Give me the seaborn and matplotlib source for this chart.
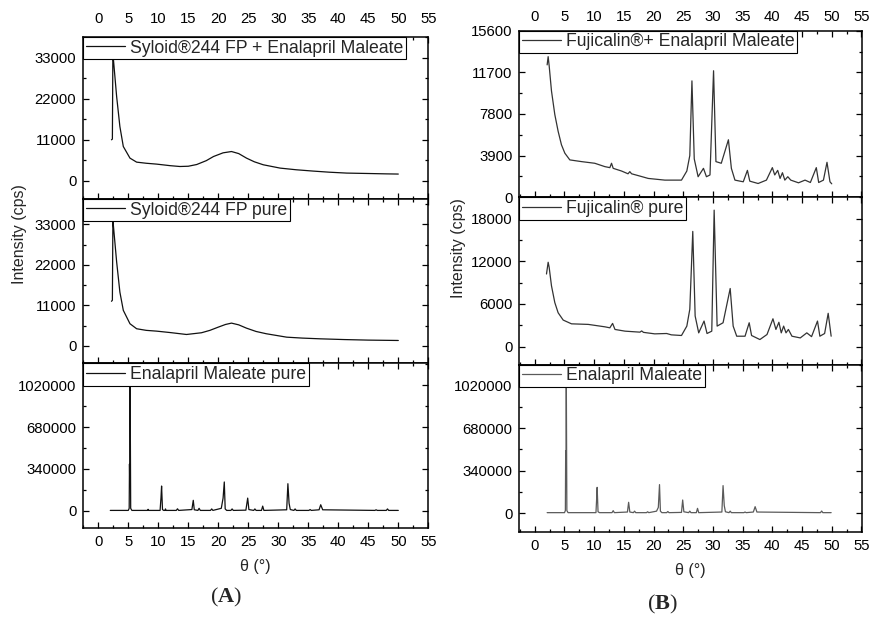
import numpy as np
import pandas as pd
import seaborn as sns
import matplotlib.pyplot as plt
from matplotlib.ticker import MultipleLocator, StrMethodFormatter

#############################################
# XRD patterns (2theta, cps)
#############################################
# (A) Syloid 244 FP + Enalapril Maleate
syl_em_theta = [2.2, 2.35, 2.45, 2.5, 3.06, 3.6, 4.17, 5.28, 6.39, 8.0, 9.72, 12.0, 13.6, 15.0,
                16.4, 18.0, 19.2, 20.8, 22.2, 23.4, 24.7, 26.0, 27.5, 30.3, 33.0, 35.8, 38.5,
                41.4, 45.0, 48.0, 50.0]
syl_em_int = [11000, 11200, 40000, 33000, 22600, 14560, 9200, 6080, 5000, 4700, 4470, 4050, 3830,
              3900, 4360, 5400, 6510, 7500, 7850, 7300, 6080, 5100, 4290, 3400, 2950, 2600, 2300,
              2060, 1950, 1850, 1800]

# (A) Syloid 244 FP pure
syl_theta = [2.2, 2.35, 2.45, 2.5, 3.06, 3.6, 4.17, 5.28, 6.39, 8.0, 9.72, 12.0, 14.7, 17.2, 18.6,
             20.0, 21.2, 22.2, 23.4, 24.7, 26.3, 28.0, 31.4, 34.0, 37.0, 41.0, 45.0, 50.0]
syl_int = [12100, 12400, 38000, 33000, 22800, 14600, 9640, 6000, 4640, 4200, 3990, 3600, 3080, 3550,
           4200, 5080, 5800, 6170, 5700, 4800, 3900, 3280, 2350, 2100, 1900, 1700, 1550, 1450]

# (A) Enalapril Maleate pure
em_a_theta = [2.0, 5.0, 5.15, 5.2, 5.25, 5.3, 5.4, 5.6, 8.2, 8.3, 8.4, 10.3, 10.45, 10.55, 10.7, 10.9,
              11.1, 11.2, 11.3, 13.0, 13.2, 13.4, 15.6, 15.83, 16.0, 16.6, 16.8, 17.0, 18.7, 18.9,
              19.1, 20.5, 20.8, 21.0, 21.15, 21.4, 22.1, 22.3, 22.5, 24.6, 24.9, 25.1, 25.9, 26.1,
              26.3, 27.2, 27.4, 27.6, 31.4, 31.6, 31.8, 32.0, 32.6, 32.8, 33.0, 35.1, 35.3, 35.5,
              36.8, 37.07, 37.4, 46.1, 46.3, 46.5, 48.0, 48.2, 48.4, 50.0]
em_a_int = [3000, 3000, 20000, 380000, 200000, 1100000, 20000, 3000, 3000, 12000, 3000, 3000, 106000,
            201000, 10000, 3000, 3000, 15000, 3000, 3000, 16000, 3000, 10000, 85000, 8000, 3000,
            20000, 3000, 3000, 15000, 3000, 20000, 103000, 234000, 15000, 3000, 3000, 15000, 3000,
            5000, 103000, 10000, 3000, 15000, 3000, 3000, 38000, 3000, 8000, 220000, 60000, 10000,
            3000, 15000, 3000, 3000, 10000, 3000, 8000, 49000, 8000, 3000, 8000, 3000, 3000, 15000,
            3000, 3000]

# (B) Fujicalin + Enalapril Maleate
fuj_em_theta = [2.08, 2.25, 2.42, 2.81, 3.37, 3.93, 4.49, 5.06, 5.9, 7.87, 10.1, 11.8, 12.64, 12.92,
                13.2, 14.6, 15.7, 16.0, 16.3, 17.7, 19.1, 21.9, 24.7, 25.6, 26.1, 26.46, 26.85,
                27.5, 28.4, 28.9, 29.5, 30.1, 30.5, 31.4, 32.6, 33.1, 33.7, 35.1, 35.8, 36.2, 37.6,
                39.0, 40.0, 40.4, 40.9, 41.3, 41.7, 42.1, 42.6, 43.1, 44.4, 45.5, 46.4, 47.4, 47.8,
                48.6, 49.2, 49.7, 50.0]
fuj_em_int = [12400, 13170, 12320, 9960, 7750, 6180, 4915, 4130, 3500, 3340, 3185, 2870, 2775, 3185,
              2710, 2460, 2200, 2400, 2200, 1985, 1765, 1607, 1607, 2460, 3910, 10900, 3590, 1925,
              2710, 1925, 2090, 11850, 3340, 3185, 5385, 2710, 1607, 1450, 2520, 1510, 1290, 1607,
              2775, 2090, 2520, 1765, 2300, 1607, 1925, 1607, 1355, 1607, 1385, 2775, 1385, 1607,
              3275, 1450, 1260]

# (B) Fujicalin pure
fuj_theta = [1.97, 2.25, 2.42, 2.81, 3.37, 3.93, 4.78, 6.18, 9.0, 11.8, 12.64, 13.1, 13.5, 15.2, 17.7,
             18.0, 18.3, 20.2, 22.2, 23.0, 24.7, 25.6, 26.1, 26.6, 27.0, 27.6, 28.5, 29.0, 29.8,
             30.2, 30.7, 31.7, 32.9, 33.4, 34.0, 35.4, 36.1, 36.5, 37.9, 39.1, 40.1, 40.6, 41.1,
             41.5, 41.9, 42.3, 42.7, 43.3, 44.7, 45.8, 46.6, 47.6, 48.0, 48.8, 49.4, 49.9]
fuj_int = [10210, 11860, 11150, 8550, 6190, 4760, 3730, 3200, 3120, 2780, 2640, 3260, 2410, 2170, 2030,
           2200, 2000, 1790, 1840, 1650, 1560, 2880, 5250, 16200, 4300, 1930, 3590, 1840, 2170,
           19190, 2880, 3350, 8170, 2880, 1460, 1460, 3350, 1560, 990, 1700, 3910, 2410, 3420,
           1930, 2880, 1930, 2410, 1460, 1220, 1930, 1400, 3590, 1460, 1840, 4680, 1460]

# (B) Enalapril Maleate
em_b_theta = [2.08, 5.0, 5.15, 5.2, 5.25, 5.3, 5.4, 5.6, 10.3, 10.4, 10.5, 10.65, 10.9, 13.0, 13.2,
              13.4, 15.6, 15.8, 16.0, 16.6, 16.8, 17.0, 18.8, 19.0, 19.2, 20.5, 20.8, 21.0, 21.15,
              21.4, 22.2, 22.4, 22.6, 24.7, 24.9, 25.1, 25.9, 26.1, 26.3, 27.2, 27.4, 27.6, 31.5,
              31.7, 31.9, 32.1, 32.7, 32.9, 33.1, 35.2, 35.4, 35.6, 36.8, 37.1, 37.4, 48.1, 48.3,
              48.5, 49.9]
em_b_int = [3000, 3000, 20000, 501000, 250000, 1150000, 20000, 3000, 3000, 100000, 206000, 10000, 3000,
            3000, 19000, 3000, 8000, 86000, 8000, 3000, 15000, 3000, 3000, 10000, 3000, 15000, 45000,
            228000, 15000, 3000, 3000, 12000, 3000, 5000, 104500, 10000, 3000, 15000, 3000, 3000,
            37500, 3000, 8000, 220000, 60000, 10000, 3000, 15000, 3000, 3000, 8000, 3000, 8000,
            51000, 8000, 3000, 16000, 3000, 3000]

labels_a = ['Syloid®244 FP + Enalapril Maleate', 'Syloid®244 FP pure', 'Enalapril Maleate pure']
labels_b = ['Fujicalin®+ Enalapril Maleate', 'Fujicalin® pure', 'Enalapril Maleate']

#############################################
# style
#############################################
sns.set_style('ticks')
plt.rcParams['font.family'] = ['Liberation Sans', 'DejaVu Sans']
plt.rcParams['mathtext.fontset'] = 'custom'
plt.rcParams['mathtext.bf'] = 'Liberation Serif:bold'
plt.rcParams['mathtext.rm'] = 'Liberation Serif'

fig = plt.figure(figsize=(8.73, 6.19), dpi=100)

# rects in figure fractions
rects_a = [[0.0954, 0.6785, 0.3952, 0.2617],
           [0.0954, 0.4128, 0.3952, 0.2657],
           [0.0954, 0.1470, 0.3952, 0.2658]]
rects_b = [[0.5949, 0.6813, 0.3922, 0.2691],
           [0.5949, 0.4108, 0.3922, 0.2705],
           [0.5949, 0.1410, 0.3922, 0.2698]]

series_a = [(syl_em_theta, syl_em_int), (syl_theta, syl_int), (em_a_theta, em_a_int)]
series_b = [(fuj_em_theta, fuj_em_int), (fuj_theta, fuj_int), (em_b_theta, em_b_int)]

ylims_a = [(-4900, 38600), (-4800, 39900), (-140000, 1197000)]
ylims_b = [(0, 15600), (-2550, 21000), (-150000, 1190000)]
ymajor_a = [11000, 11000, 340000]
ymajor_b = [3900, 6000, 340000]

colors_a = ['#111111', '#111111', '#111111']
colors_b = ['#333333', '#333333', '#5a5a5a']


def draw_panel(rects, series, labels, ylims, ymajor, colors, xlim, toppad):
    axes = []
    for i in range(3):
        ax = fig.add_axes(rects[i])
        x, y = series[i]
        df = pd.DataFrame({'theta': x, 'cps': y})
        sns.lineplot(data=df, x='theta', y='cps', ax=ax, color=colors[i], lw=0.9,
                     estimator=None, sort=False, label=labels[i])
        ax.set_xlim(*xlim)
        ax.set_ylim(*ylims[i])
        ax.set_xlabel('')
        ax.set_ylabel('')
        ax.xaxis.set_major_locator(MultipleLocator(5))
        ax.xaxis.set_minor_locator(MultipleLocator(2.5))
        ax.yaxis.set_major_locator(MultipleLocator(ymajor[i]))
        ax.yaxis.set_minor_locator(MultipleLocator(ymajor[i] / 2))
        ax.yaxis.set_major_formatter(StrMethodFormatter('{x:.0f}'))
        ax.tick_params(which='both', direction='in', top=True, right=True, width=0.9,
                       labelsize=10.7, colors='black')
        ax.tick_params(which='major', length=4.5, pad=5)
        ax.tick_params(which='minor', length=2.5)
        ax.tick_params(axis='x', labelbottom=(i == 2), labeltop=(i == 0))
        if i == 0:
            ax.tick_params(axis='x', pad=toppad)
        for s in ax.spines.values():
            s.set_linewidth(1.1)
            s.set_color('black')
        leg = ax.legend(loc='upper left', borderaxespad=0, fancybox=False, framealpha=1,
                        edgecolor='black', fontsize=12.7, handlelength=2.2, handletextpad=0.3,
                        borderpad=0.15, labelspacing=0)
        leg.get_frame().set_linewidth(0.8)
        axes.append(ax)
    return axes


draw_panel(rects_a, series_a, labels_a, ylims_a, ymajor_a, colors_a, (-2.5, 55), 8)
draw_panel(rects_b, series_b, labels_b, ylims_b, ymajor_b, colors_b, (-2.6, 55.05), 5)

# axis labels
fig.text(20 / 873, 1 - 234 / 619, 'Intensity (cps)', rotation=90, ha='center', va='center', fontsize=11.5)
fig.text(459 / 873, 1 - 248 / 619, 'Intensity (cps)', rotation=90, ha='center', va='center', fontsize=11.5)
fig.text(255 / 873, 1 - 567 / 619, 'θ (°)', ha='center', va='center', fontsize=11.5)
fig.text(690 / 873, 1 - 570 / 619, 'θ (°)', ha='center', va='center', fontsize=11.5)

# panel letters
fig.text(226 / 873, 1 - 597 / 619, r'($\mathbf{A}$)', ha='center', va='center', fontsize=16,
         family='Liberation Serif')
fig.text(662 / 873, 1 - 604 / 619, r'($\mathbf{B}$)', ha='center', va='center', fontsize=16,
         family='Liberation Serif')

plt.savefig('out.png', dpi=100)
